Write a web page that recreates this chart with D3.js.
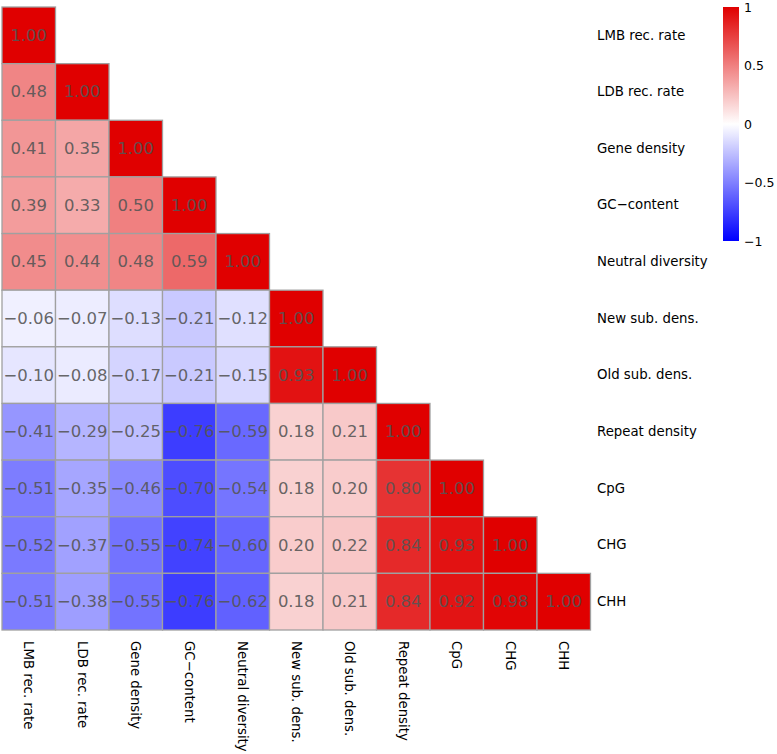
<!DOCTYPE html>
<html lang="en">
<head>
    <meta charset="UTF-8">
    <title>Correlation matrix</title>
    <style>
        body {
            margin: 0;
            padding: 0;
            background: #fff;
            font-family: 'DejaVu Sans', sans-serif;
        }
        svg { display: block; }
        svg text { font-family: 'DejaVu Sans', sans-serif; }
        .lab text { font-size: 13.3px; fill: #000; }
        .cb text { font-size: 12.5px; fill: #000; }
        .val { font-size: 16.5px; fill: #555; fill-opacity: 0.9; }
    </style>
</head>
<body>

<svg id="chart" width="777" height="754"></svg>

<script src="https://d3js.org/d3.v7.min.js"></script>
<script>
    // variables (rows top to bottom, columns left to right)
    const vars = ["LMB rec. rate", "LDB rec. rate", "Gene density", "GC\u2212content",
        "Neutral diversity", "New sub. dens.", "Old sub. dens.", "Repeat density",
        "CpG", "CHG", "CHH"];

    // lower triangle, one array per row
    const rowLMB = [1.00];
    const rowLDB = [0.48, 1.00];
    const rowGene = [0.41, 0.35, 1.00];
    const rowGC = [0.39, 0.33, 0.50, 1.00];
    const rowNeutral = [0.45, 0.44, 0.48, 0.59, 1.00];
    const rowNew = [-0.06, -0.07, -0.13, -0.21, -0.12, 1.00];
    const rowOld = [-0.10, -0.08, -0.17, -0.21, -0.15, 0.93, 1.00];
    const rowRepeat = [-0.41, -0.29, -0.25, -0.76, -0.59, 0.18, 0.21, 1.00];
    const rowCpG = [-0.51, -0.35, -0.46, -0.70, -0.54, 0.18, 0.20, 0.80, 1.00];
    const rowCHG = [-0.52, -0.37, -0.55, -0.74, -0.60, 0.20, 0.22, 0.84, 0.93, 1.00];
    const rowCHH = [-0.51, -0.38, -0.55, -0.76, -0.62, 0.18, 0.21, 0.84, 0.92, 0.98, 1.00];

    const rows = [rowLMB, rowLDB, rowGene, rowGC, rowNeutral, rowNew, rowOld,
        rowRepeat, rowCpG, rowCHG, rowCHH];

    const legendTicks = [-1, -0.5, 0, 0.5, 1];

    const cells = [];
    rows.forEach((r, i) => r.forEach((v, j) => cells.push({ row: vars[i], col: vars[j], v: v })));

    const svg = d3.select("#chart");

    const x = d3.scaleBand().domain(vars).range([2, 590.5]);
    const y = d3.scaleBand().domain(vars).range([7, 630]);

    const color = d3.scaleLinear()
        .domain([-1, 0, 1])
        .range(["#0000ff", "#ffffff", "#e00000"]);

    // cells
    svg.append("g").selectAll("rect")
        .data(cells)
        .join("rect")
        .attr("x", d => x(d.col))
        .attr("y", d => y(d.row))
        .attr("width", x.bandwidth())
        .attr("height", y.bandwidth())
        .attr("fill", d => color(d.v))
        .attr("stroke", "#a0a0a0")
        .attr("stroke-width", 1.3);

    const fmt = d3.format(".2f");
    svg.append("g").selectAll("text")
        .data(cells)
        .join("text")
        .attr("class", "val")
        .attr("x", d => x(d.col) + x.bandwidth() / 2)
        .attr("y", d => y(d.row) + y.bandwidth() / 2)
        .attr("text-anchor", "middle")
        .attr("dominant-baseline", "central")
        .text(d => fmt(d.v));

    // row labels on the right
    const yAxis = svg.append("g")
        .attr("class", "lab")
        .attr("transform", "translate(597,0)")
        .call(d3.axisRight(y).tickSize(0).tickPadding(0));
    yAxis.select(".domain").remove();

    // column labels at the bottom, rotated
    const xAxis = svg.append("g")
        .attr("class", "lab")
        .attr("transform", "translate(0,641)")
        .call(d3.axisBottom(x).tickSize(0).tickPadding(0));
    xAxis.select(".domain").remove();
    xAxis.selectAll("text")
        .attr("transform", "rotate(90)")
        .attr("text-anchor", "start")
        .attr("dy", "0.35em")
        .attr("x", 0)
        .attr("y", 0);

    // colour bar
    const lg = d3.scaleLinear().domain([-1, 1]).range([241, 7]);
    const defs = svg.append("defs");
    const grad = defs.append("linearGradient")
        .attr("id", "cbar")
        .attr("x1", 0).attr("y1", 1).attr("x2", 0).attr("y2", 0);
    d3.range(-1, 1.001, 0.1).forEach(t => {
        grad.append("stop")
            .attr("offset", (t + 1) / 2)
            .attr("stop-color", color(t));
    });
    svg.append("rect")
        .attr("x", 723)
        .attr("y", lg(1))
        .attr("width", 16)
        .attr("height", lg(-1) - lg(1))
        .attr("fill", "url(#cbar)");

    const cAxis = svg.append("g")
        .attr("class", "cb")
        .attr("transform", "translate(744,0)")
        .call(d3.axisRight(lg).tickValues(legendTicks).tickFormat(d3.format("")).tickSize(0).tickPadding(0));
    cAxis.select(".domain").remove();
</script>

</body>
</html>
